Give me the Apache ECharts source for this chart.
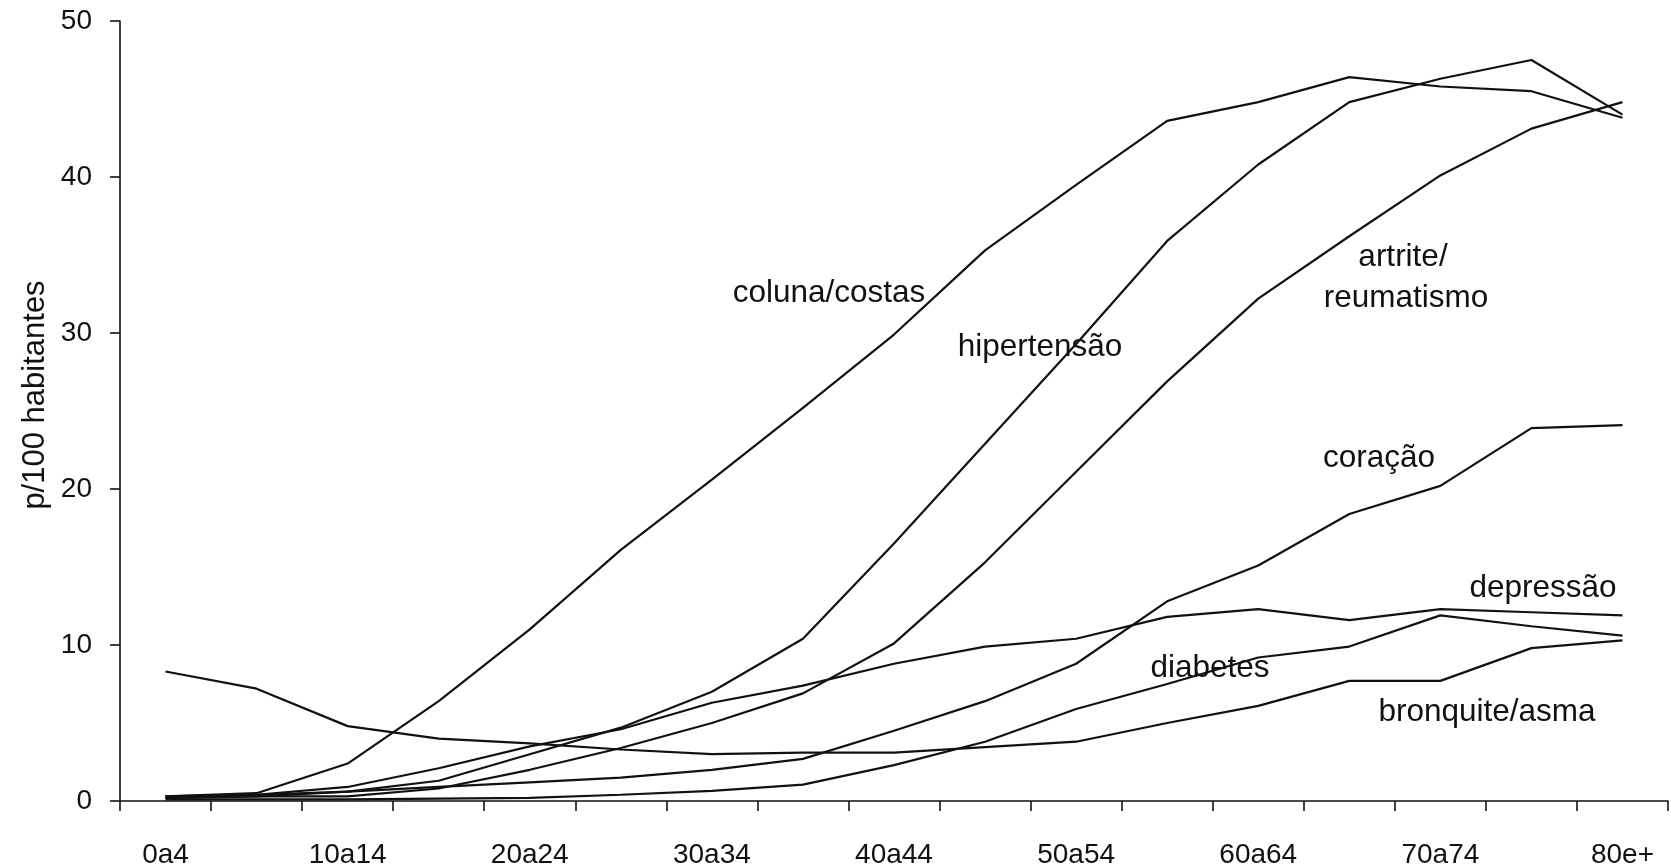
<!DOCTYPE html>
<html>
<head>
<meta charset="utf-8">
<script src="https://cdn.jsdelivr.net/npm/echarts@6/dist/echarts.min.js"></script>
<style>
html,body{margin:0;padding:0;background:#fff;}
#chart{width:1671px;height:866px;}
</style>
</head>
<body>
<div id="chart"></div>
<script>
const categories = ['0a4','5a9','10a14','15a19','20a24','25a29','30a34','35a39','40a44','45a49','50a54','55a59','60a64','65a69','70a74','75a79','80e+'];
const yTicks = [0, 10, 20, 30, 40, 50];

const colunaCostas = [0.3, 0.5, 2.4, 6.4, 11.0, 16.1, 20.6, 25.2, 29.9, 35.3, 39.5, 43.6, 44.8, 46.4, 45.8, 45.5, 43.8];
const hipertensao  = [0.3, 0.4, 0.6, 1.3, 3.0, 4.7, 7.0, 10.4, 16.5, 22.9, 29.3, 35.9, 40.8, 44.8, 46.3, 47.5, 44.0];
const artrite      = [0.2, 0.3, 0.3, 0.8, 2.0, 3.4, 5.0, 6.9, 10.1, 15.3, 21.1, 26.9, 32.2, 36.2, 40.1, 43.1, 44.8];
const coracao      = [0.2, 0.3, 0.6, 0.9, 1.2, 1.5, 2.0, 2.7, 4.5, 6.4, 8.8, 12.8, 15.1, 18.4, 20.2, 23.9, 24.1];
const depressao    = [0.3, 0.4, 0.9, 2.1, 3.5, 4.6, 6.3, 7.4, 8.8, 9.9, 10.4, 11.8, 12.3, 11.6, 12.3, 12.1, 11.9];
const diabetes     = [0.1, 0.1, 0.1, 0.15, 0.2, 0.4, 0.65, 1.05, 2.3, 3.8, 5.9, 7.5, 9.2, 9.9, 11.9, 11.2, 10.6];
const bronquite    = [8.3, 7.2, 4.8, 4.0, 3.7, 3.3, 3.0, 3.1, 3.1, 3.45, 3.8, 5.0, 6.1, 7.7, 7.7, 9.8, 10.3];

const seriesNames = ['coluna/costas','hipertensão','artrite/reumatismo','coração','depressão','diabetes','bronquite/asma'];
const seriesData = [colunaCostas, hipertensao, artrite, coracao, depressao, diabetes, bronquite];

const FONT = '"Liberation Sans", Arial, Helvetica, sans-serif';
const chart = echarts.init(document.getElementById('chart'));

function txt(text, x, y, size, extra) {
  return Object.assign({
    type: 'text',
    x: x, y: y,
    style: { text: text, fill: '#111', font: size + 'px ' + FONT, align: 'center', verticalAlign: 'middle' }
  }, extra || {});
}

chart.setOption({
  animation: false,
  backgroundColor: '#fff',
  grid: { left: 120, right: 3, top: 21, bottom: 65, containLabel: false, outerBoundsMode: 'none' },
  xAxis: {
    type: 'category',
    data: categories,
    boundaryGap: true,
    axisLine: { lineStyle: { color: '#111', width: 1.6 } },
    axisTick: { show: true, interval: 0, length: 10, inside: false, lineStyle: { color: '#111', width: 1.6 } },
    axisLabel: { interval: 1, margin: 40, color: '#111', fontSize: 28, fontFamily: FONT },
    splitLine: { show: false }
  },
  yAxis: {
    type: 'value',
    min: yTicks[0],
    max: yTicks[yTicks.length - 1],
    interval: 10,
    axisLine: { show: true, lineStyle: { color: '#111', width: 1.6 } },
    axisTick: { show: true, length: 10, lineStyle: { color: '#111', width: 1.6 } },
    axisLabel: { margin: 28, color: '#111', fontSize: 28, fontFamily: FONT },
    splitLine: { show: false }
  },
  series: seriesData.map((d, i) => ({
    type: 'line',
    name: seriesNames[i],
    data: d,
    symbol: 'none',
    smooth: false,
    lineStyle: { color: '#111', width: 2.2 },
    z: 3
  })),
  graphic: [
    txt('p/100 habitantes', 35, 395, 31, { rotation: Math.PI / 2 }),
    txt('coluna/costas', 829, 293, 31.5),
    txt('hipertensão', 1040, 347, 31.5),
    txt('artrite/', 1403, 257, 31.5),
    txt('reumatismo', 1406, 298, 31.5),
    txt('coração', 1379, 458, 31.5),
    txt('depressão', 1543, 588, 31.5),
    txt('diabetes', 1210, 668, 31.5),
    txt('bronquite/asma', 1487, 712, 31.5)
  ]
});
</script>
</body>
</html>
